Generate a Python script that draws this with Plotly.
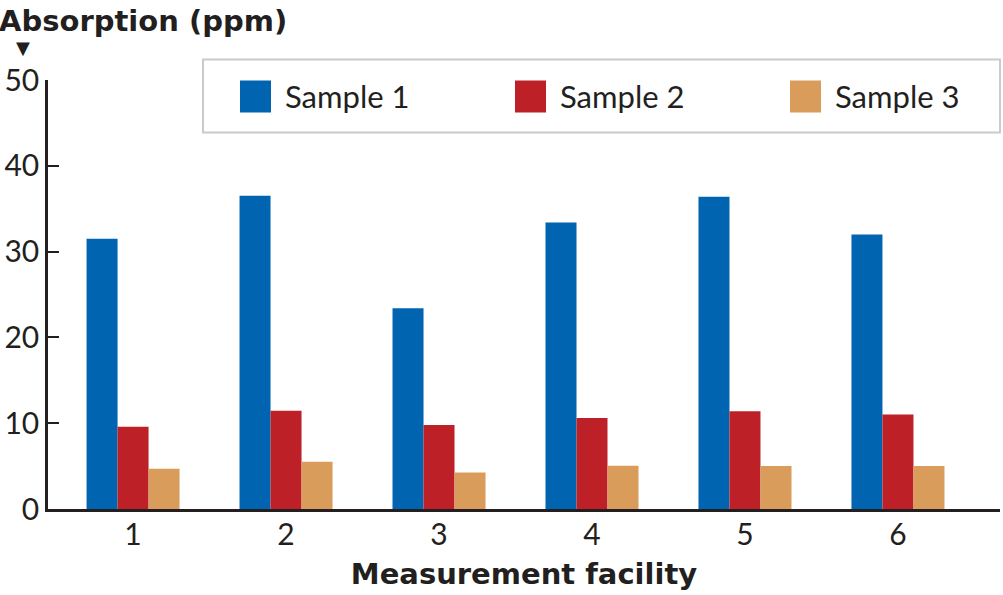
import plotly.graph_objects as go

facilities = [1, 2, 3, 4, 5, 6]
tick_labels = ["1", "2", "3", "4", "5", "6"]
series_names = ["Sample 1", "Sample 2", "Sample 3"]
sample1 = [31.5, 36.5, 23.4, 33.4, 36.4, 32.0]
sample2 = [9.6, 11.45, 9.8, 10.6, 11.4, 11.0]
sample3 = [4.7, 5.5, 4.25, 5.05, 5.0, 5.0]
colors = ["#0064b0", "#be2027", "#d99c5a"]
y_ticks = [0, 10, 20, 30, 40, 50]

W, H = 1003, 595
L, R, T, B = 48, 3, 79.5, 85.5
PW, PH = W - L - R, H - T - B
INK = "#231f20"
FONT = "Lato"
BOLD = "DejaVu Sans"

def px(x):
    return (x - L) / PW

def py(y):
    return (H - B - y) / PH

fig = go.Figure()
for name, vals, col in zip(series_names, [sample1, sample2, sample3], colors):
    fig.add_trace(go.Bar(x=facilities, y=vals, name=name,
                         marker=dict(color=col, line=dict(width=0)),
                         showlegend=False))

shapes = [dict(type="rect", xref="paper", yref="paper",
               x0=px(203), x1=px(1000), y0=py(132), y1=py(59),
               line=dict(color="#c9cacc", width=2), fillcolor="rgba(0,0,0,0)")]
annotations = []
sw_x = [240, 515, 790]
for name, col, sx in zip(series_names, colors, sw_x):
    shapes.append(dict(type="rect", xref="paper", yref="paper",
                       x0=px(sx), x1=px(sx + 31), y0=py(112), y1=py(80),
                       line=dict(width=0), fillcolor=col))
    annotations.append(dict(text=name, xref="paper", yref="paper",
                            x=px(sx + 43), y=py(96), xanchor="left", yanchor="middle",
                            showarrow=False, font=dict(family=FONT, size=31, color=INK)))

annotations.append(dict(text="<b>Absorption (ppm)</b>", xref="paper", yref="paper",
                        x=px(-3), y=py(20), xanchor="left", yanchor="middle",
                        showarrow=False, font=dict(family=BOLD, size=29, color=INK)))
annotations.append(dict(text="▼", xref="paper", yref="paper",
                        x=px(23), y=py(47), xanchor="center", yanchor="middle",
                        showarrow=False, font=dict(family="DejaVu Sans", size=18, color=INK)))

fig.update_layout(
    width=W, height=H,
    margin=dict(l=L, r=R, t=T, b=B, pad=0, autoexpand=False),
    paper_bgcolor="white", plot_bgcolor="white",
    barmode="group", bargap=0.392, bargroupgap=0,
    shapes=shapes, annotations=annotations,
    font=dict(family=FONT, color=INK),
)
fig.update_xaxes(range=[0.444, 6.667], tickmode="array", tickvals=facilities, ticktext=tick_labels,
                 automargin=False,
                 showgrid=False, zeroline=False, showline=True, linewidth=3, linecolor=INK,
                 ticks="", ticklabelstandoff=-3, tickfont=dict(family=FONT, size=30, color=INK),
                 title=dict(text="<b>Measurement facility</b>", standoff=14,
                            font=dict(family=BOLD, size=29, color=INK)))
fig.update_yaxes(range=[0, 50], tickmode="array", tickvals=y_ticks, automargin=False,
                 showgrid=False, zeroline=False, showline=True, linewidth=2.5, linecolor=INK,
                 ticks="inside", ticklen=11, tickwidth=2, tickcolor=INK,
                 ticklabelstandoff=0, tickfont=dict(family=FONT, size=30, color=INK))

fig.write_html("out.html", config={"displayModeBar": False},
               post_script="document.body.style.margin='0px';")
